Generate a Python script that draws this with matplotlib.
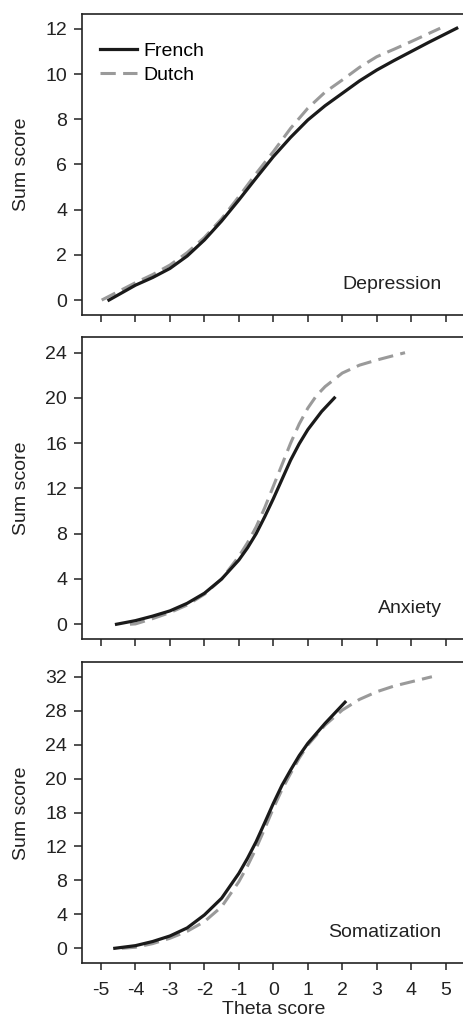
import numpy as np
from matplotlib import pyplot as plt

plt.rcParams['font.family'] = ['Liberation Sans', 'DejaVu Sans']

# Depression
dep_french_x = [-4.77, -4.0, -3.5, -3.0, -2.5, -2.0, -1.5, -1.0, -0.5, 0.0, 0.5, 1.0, 1.5, 2.0, 2.5, 3.0, 3.5, 4.0, 4.5, 5.32]
dep_french_y = [0.0, 0.66, 1.0, 1.4, 1.95, 2.66, 3.5, 4.43, 5.4, 6.35, 7.2, 7.97, 8.6, 9.15, 9.7, 10.18, 10.6, 11.0, 11.4, 12.03]
dep_dutch_x = [-4.98, -4.0, -3.5, -3.0, -2.5, -2.0, -1.5, -1.0, -0.5, 0.0, 0.5, 1.0, 1.5, 2.0, 2.5, 3.0, 3.5, 4.0, 4.84]
dep_dutch_y = [0.0, 0.77, 1.13, 1.55, 2.1, 2.77, 3.6, 4.58, 5.6, 6.57, 7.6, 8.49, 9.2, 9.74, 10.3, 10.77, 11.1, 11.44, 12.03]

# Anxiety
anx_french_x = [-4.55, -4.0, -3.5, -3.0, -2.5, -2.0, -1.5, -1.0, -0.75, -0.5, -0.25, 0.0, 0.25, 0.5, 0.75, 1.0, 1.4, 1.77]
anx_french_y = [0.0, 0.32, 0.72, 1.18, 1.85, 2.74, 4.0, 5.68, 6.75, 8.0, 9.5, 11.1, 12.8, 14.5, 15.95, 17.2, 18.8, 20.0]
anx_dutch_x = [-4.16, -4.0, -3.5, -3.0, -2.5, -2.0, -1.5, -1.0, -0.75, -0.5, -0.25, 0.0, 0.25, 0.5, 0.75, 1.0, 1.25, 1.5, 2.0, 2.5, 3.0, 3.5, 3.82]
anx_dutch_y = [0.0, 0.03, 0.5, 1.03, 1.7, 2.65, 4.0, 6.0, 7.2, 8.6, 10.3, 12.2, 14.1, 16.0, 17.7, 19.1, 20.2, 21.0, 22.2, 22.9, 23.35, 23.75, 24.0]

# Somatization
som_french_x = [-4.6, -4.0, -3.5, -3.0, -2.5, -2.0, -1.5, -1.0, -0.75, -0.5, -0.25, 0.0, 0.25, 0.5, 0.75, 1.0, 1.5, 2.08]
som_french_y = [0.0, 0.31, 0.8, 1.45, 2.4, 3.93, 5.9, 8.83, 10.6, 12.56, 14.8, 17.08, 19.2, 21.0, 22.7, 24.15, 26.5, 29.0]
som_dutch_x = [-4.4, -4.0, -3.5, -3.0, -2.5, -2.0, -1.5, -1.0, -0.75, -0.5, -0.25, 0.0, 0.25, 0.5, 0.75, 1.0, 1.5, 2.0, 2.5, 3.0, 3.5, 4.0, 4.6]
som_dutch_y = [0.0, 0.12, 0.55, 1.18, 2.0, 3.14, 4.9, 7.85, 9.7, 11.78, 14.1, 16.5, 18.7, 20.6, 22.4, 23.95, 26.3, 28.07, 29.33, 30.23, 30.9, 31.4, 32.0]

x_ticks = [-5, -4, -3, -2, -1, 0, 1, 2, 3, 4, 5]
dep_ticks = [0, 2, 4, 6, 8, 10, 12]
anx_ticks = [0, 4, 8, 12, 16, 20, 24]
som_ticks = [0, 4, 8, 12, 16, 20, 24, 28, 32]
som_tick_labels = ['0', '4', '8', '12', '18', '20', '24', '28', '32']

panels = [
    ('Depression', dep_french_x, dep_french_y, dep_dutch_x, dep_dutch_y,
     dep_ticks, [str(t) for t in dep_ticks], (-0.66, 12.66), 14, 315),
    ('Anxiety', anx_french_x, anx_french_y, anx_dutch_x, anx_dutch_y,
     anx_ticks, [str(t) for t in anx_ticks], (-1.33, 25.36), 337.3, 639.3),
    ('Somatization', som_french_x, som_french_y, som_dutch_x, som_dutch_y,
     som_ticks, som_tick_labels, (-1.77, 33.7), 662.3, 963.3),
]

W, H = 463, 1021
fig = plt.figure(figsize=(W / 100, H / 100), dpi=100)
left_px, right_px = 81.7, 465

fs = 14
for i, (name, fx, fy, dx, dy, yt, ytl, ylim, top_px, bot_px) in enumerate(panels):
    ax = fig.add_axes([left_px / W, 1 - bot_px / H,
                       (right_px - left_px) / W, (bot_px - top_px) / H])
    ax.plot(dx, dy, color='#9a9a9a', lw=2.2, dashes=(5, 2.4), label='Dutch', zorder=2)
    ax.plot(fx, fy, color='#1a1a1a', lw=2.3, label='French', zorder=3)
    ax.set_xlim(-5.56, 5.56)
    ax.set_ylim(*ylim)
    ax.set_xticks(x_ticks)
    ax.set_yticks(yt)
    ax.set_yticklabels(ytl)
    ax.spines['right'].set_visible(False)
    for s in ['left', 'top', 'bottom']:
        ax.spines[s].set_linewidth(1.2)
        ax.spines[s].set_color('#222222')
    ax.tick_params(axis='x', length=4.8, width=1.1, color='#222222', labelsize=fs, pad=8.5,
                   labelcolor='#222222')
    ax.tick_params(axis='y', length=5.5, width=1.1, color='#222222', labelsize=fs, pad=5,
                   labelcolor='#222222')
    ax.set_ylabel('Sum score', fontsize=fs, labelpad=11, color='#222222')
    ax.text(0.939, 0.102, name, transform=ax.transAxes, ha='right', va='center',
            fontsize=fs, color='#222222')
    if i < 2:
        ax.set_xticklabels([])
    else:
        ax.set_xticklabels([str(t) for t in x_ticks])
        ax.set_xlabel('Theta score', fontsize=fs, labelpad=1.5, color='#222222')
    if i == 0:
        h, l = ax.get_legend_handles_labels()
        ax.legend(h[::-1], l[::-1], loc='upper left', frameon=False, fontsize=fs,
                  handlelength=1.9, handletextpad=0.3, labelspacing=0.35,
                  borderaxespad=0, borderpad=0, bbox_to_anchor=(0.048, 0.907))

fig.savefig('out.png', dpi=100)
